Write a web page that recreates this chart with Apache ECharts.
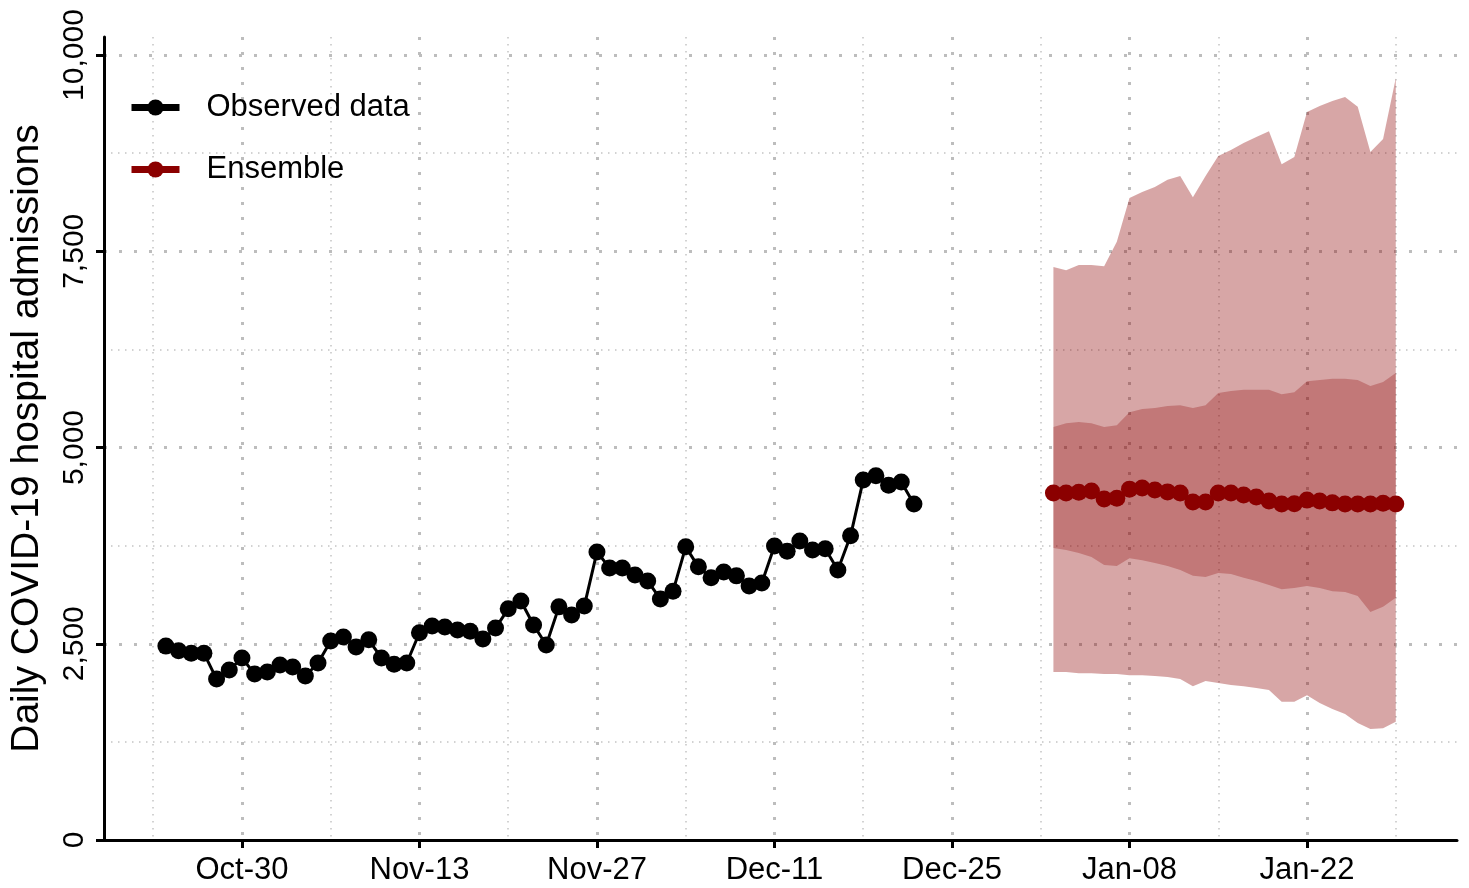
<!DOCTYPE html>
<html>
<head>
<meta charset="utf-8">
<title>Daily COVID-19 hospital admissions</title>
<script src="https://cdn.jsdelivr.net/npm/echarts@6/dist/echarts.min.js"></script>
<style>
  html, body { margin: 0; padding: 0; background: #fff; }
  #chart { width: 1469px; height: 888px; }
</style>
</head>
<body>
<div id="chart"></div>
<script>
// observed daily admissions, one value per day from obsStart
const obsStart = '2023-10-24'
const observed = [
  2470, 2410, 2380, 2380, 2050, 2165, 2320, 2115, 2140, 2230,
  2205, 2090, 2255, 2535, 2585, 2460, 2550, 2320, 2240, 2255,
  2640, 2725, 2715, 2675, 2660, 2560, 2700, 2945, 3045, 2740,
  2485, 2970, 2865, 2980, 3670, 3465, 3465, 3375, 3300, 3070,
  3170, 3735, 3480, 3340, 3415, 3365, 3235, 3275, 3745, 3680,
  3810, 3695, 3710, 3440, 3875, 4585, 4640, 4520, 4560, 4280
]

// ensemble forecast, one value per day from ensStart
const ensStart = '2024-01-02'
const ensMedian = [
  4420, 4420, 4430, 4445, 4345, 4355, 4470, 4485, 4460, 4435,
  4420, 4305, 4305, 4420, 4420, 4395, 4370, 4320, 4280, 4285,
  4330, 4320, 4295, 4280, 4280, 4280, 4290, 4280
]
const ensLo50 = [
  3720, 3695, 3655, 3605, 3505, 3490, 3590, 3565, 3530, 3490,
  3440, 3365, 3350, 3400, 3390, 3340, 3300, 3250, 3195, 3210,
  3235, 3210, 3170, 3160, 3110, 2905, 2970, 3085
]
const ensHi50 = [
  5260, 5310, 5325, 5310, 5260, 5285, 5450, 5490, 5505, 5530,
  5540, 5505, 5540, 5695, 5720, 5735, 5735, 5735, 5680, 5705,
  5845, 5860, 5875, 5875, 5860, 5785, 5835, 5950
]
const ensLo95 = [
  2140, 2140, 2125, 2125, 2115, 2115, 2100, 2100, 2090, 2075,
  2050, 1960, 2025, 2000, 1975, 1960, 1935, 1910, 1760, 1760,
  1845, 1745, 1670, 1605, 1490, 1415, 1425, 1505
]
const ensHi95 = [
  7300, 7260, 7325, 7325, 7310, 7620, 8180, 8255, 8320, 8410,
  8460, 8190, 8460, 8715, 8790, 8880, 8955, 9030, 8610, 8700,
  9275, 9350, 9415, 9465, 9340, 8765, 8930, 9705
]

const xMajorTicks = ['2023-10-30', '2023-11-13', '2023-11-27', '2023-12-11', '2023-12-25', '2024-01-08', '2024-01-22']
const xMinorTicks = ['2023-10-23', '2023-11-06', '2023-11-20', '2023-12-04', '2023-12-18', '2024-01-01', '2024-01-15', '2024-01-29']
const yMajorTicks = [0, 2500, 5000, 7500, 10000]
const yMinorTicks = [1250, 3750, 6250, 8750]

const DAY = 86400000
const MONTHS = ['Jan', 'Feb', 'Mar', 'Apr', 'May', 'Jun', 'Jul', 'Aug', 'Sep', 'Oct', 'Nov', 'Dec']
const FONT = 'Liberation Sans'

function ts(s, plusDays = 0) {
  const [y, m, d] = s.split('-').map(Number)
  return Date.UTC(y, m - 1, d + plusDays)
}

function fmtDate(v) {
  const d = new Date(v)
  return MONTHS[d.getUTCMonth()] + '-' + String(d.getUTCDate()).padStart(2, '0')
}

function daily(start, values) {
  return values.map((v, i) => [ts(start, i), v])
}

const xMin = ts('2023-10-30') - 10.88 * DAY
const xMax = ts('2024-01-22') + 11.83 * DAY

// one polygon per band: upper edge forward, lower edge back
function bandSeries(name, lo, hi, color) {
  return {
    name,
    type: 'custom',
    silent: true,
    z: 1,
    data: lo.map((v, i) => [ts(ensStart, i), v, hi[i]]),
    encode: { x: 0, y: [1, 2] },
    renderItem(params, api) {
      if (params.dataIndex !== 0) return null
      const top = hi.map((v, i) => api.coord([ts(ensStart, i), v]))
      const bottom = lo.map((v, i) => api.coord([ts(ensStart, i), v])).reverse()
      return {
        type: 'polygon',
        shape: { points: top.concat(bottom) },
        style: { fill: color }
      }
    }
  }
}

const chart = echarts.init(document.getElementById('chart'))

chart.setOption({
  animation: false,
  textStyle: { fontFamily: FONT },
  grid: { left: 104, right: 12, top: 37, bottom: 48 },
  legend: {
    data: ['Observed data', 'Ensemble'],
    orient: 'vertical',
    left: 128,
    top: 92,
    padding: 0,
    itemGap: 31,
    itemWidth: 48,
    itemHeight: 20,
    lineStyle: { width: 7 },
    textStyle: { fontSize: 31, color: '#000', fontFamily: FONT, padding: [0, 0, 0, 22] }
  },
  xAxis: [
    {
      type: 'value',
      min: xMin,
      max: xMax,
      axisLine: { lineStyle: { color: '#000', width: 3 } },
      axisTick: {
        customValues: xMajorTicks.map(s => ts(s)),
        length: 8,
        lineStyle: { color: '#000', width: 3 }
      },
      axisLabel: {
        customValues: xMajorTicks.map(s => ts(s)),
        formatter: v => fmtDate(v),
        fontSize: 31,
        color: '#000',
        margin: 15
      },
      splitLine: {
        show: true,
        lineStyle: { color: '#bdbdbd', width: 3, type: [3, 12] }
      }
    },
    {
      type: 'value',
      min: xMin,
      max: xMax,
      axisLine: { show: false },
      axisTick: { show: false, customValues: xMinorTicks.map(s => ts(s)) },
      axisLabel: { show: false },
      splitLine: {
        show: true,
        lineStyle: { color: '#c4c4c4', width: 1.5, type: [1.5, 5.5] }
      }
    }
  ],
  yAxis: [
    {
      type: 'value',
      min: 0,
      max: 10230,
      interval: 2500,
      name: 'Daily COVID-19 hospital admissions',
      nameLocation: 'middle',
      nameGap: 57,
      nameTextStyle: { fontSize: 39, color: '#000', fontFamily: FONT },
      axisLine: { show: true, lineStyle: { color: '#000', width: 3 } },
      axisTick: {
        show: true,
        customValues: yMajorTicks,
        length: 8,
        lineStyle: { color: '#000', width: 3 }
      },
      axisLabel: {
        customValues: yMajorTicks,
        rotate: 90,
        fontSize: 30,
        color: '#000',
        margin: 14,
        formatter: v => v.toLocaleString('en-US')
      },
      splitLine: {
        show: true,
        lineStyle: { color: '#bdbdbd', width: 3, type: [3, 12] }
      }
    },
    {
      type: 'value',
      min: 0,
      max: 10230,
      interval: 1250,
      axisLine: { show: false },
      axisTick: { show: false, customValues: yMinorTicks },
      axisLabel: { show: false },
      splitLine: {
        show: true,
        lineStyle: { color: '#c4c4c4', width: 1.5, type: [1.5, 5.5] }
      }
    }
  ],
  series: [
    bandSeries('95% interval', ensLo95, ensHi95, 'rgba(139,0,0,0.35)'),
    bandSeries('50% interval', ensLo50, ensHi50, 'rgba(139,0,0,0.28)'),
    {
      name: 'Ensemble',
      type: 'line',
      symbol: 'circle',
      symbolSize: 17,
      itemStyle: { color: '#8b0000' },
      lineStyle: { color: '#8b0000', width: 3 },
      z: 3,
      data: daily(ensStart, ensMedian)
    },
    {
      name: 'Observed data',
      type: 'line',
      symbol: 'circle',
      symbolSize: 17,
      itemStyle: { color: '#000' },
      lineStyle: { color: '#000', width: 3 },
      z: 3,
      data: daily(obsStart, observed)
    }
  ]
})
</script>
</body>
</html>
